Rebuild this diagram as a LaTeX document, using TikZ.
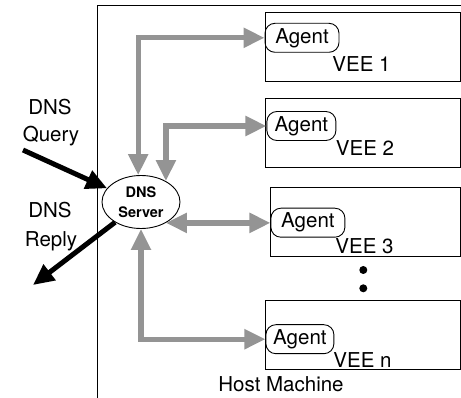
\documentclass[tikz,border=0pt]{standalone}
\usepackage{fontspec}
\setmainfont{TeX Gyre Heros}
\usetikzlibrary{arrows.meta,shapes.geometric}
\definecolor{arrowgray}{RGB}{148,148,148}
\begin{document}
\begin{tikzpicture}[x=1pt,y=-1pt,
  every node/.style={inner sep=0pt},
  txt/.style={font=\fontsize{20.5}{24}\selectfont, anchor=base},
  veebox/.style={draw, line width=0.9pt, rectangle},
  agent/.style={draw, line width=0.9pt, rounded corners=10pt, minimum height=29pt, font=\fontsize{20.5}{24}\selectfont},
  dnsnode/.style={draw, line width=0.9pt, ellipse, minimum width=78pt, minimum height=53pt, align=center, font=\fontsize{14.5}{20}\selectfont\bfseries},
  garrow/.style={draw=arrowgray, line width=5.3pt, {Triangle[length=21pt,width=19pt]}-{Triangle[length=21pt,width=19pt]}},
  barrow/.style={draw=black, line width=5pt, -{Triangle[length=21pt,width=19pt]}},
  dotnode/.style={circle, fill=black, minimum size=8pt}
]
\useasboundingbox (0,0) rectangle (461,398);

% host machine border
\draw[line width=0.9pt] (461,5) -- (97,5) -- (97,398);
\node[txt] (host) at (281,391.7) {Host Machine};

% VEE boxes
\node[veebox, minimum width=194.3pt, minimum height=69pt] (vee1) at (362.85,46.5) {};
\node[veebox, minimum width=194.3pt, minimum height=69pt] (vee2) at (362.85,132.5) {};
\node[veebox, minimum width=190pt, minimum height=69pt] (vee3) at (365,221.5) {};
\node[veebox, minimum width=194.3pt, minimum height=69pt] (veen) at (362.85,334.7) {};

\node[txt] (l1) at (361.5,71.7) {VEE 1};
\node[txt] (l2) at (365,156) {VEE 2};
\node[txt] (l3) at (364.5,254) {VEE 3};
\node[txt] (ln) at (362.5,367) {VEE n};

% agents
\node[agent, minimum width=74pt] (agent1) at (302,37.8) {Agent};
\node[agent, minimum width=69pt] (agent2) at (301.4,126) {Agent};
\node[agent, minimum width=74pt] (agent3) at (307.9,222.7) {Agent};
\node[agent, minimum width=68pt] (agentn) at (299.9,339.2) {Agent};

% dots
\node[dotnode] (dot1) at (363.3,270) {};
\node[dotnode] (dot2) at (363.3,288.3) {};

% DNS server
\node[dnsnode] (dns) at (141,202) {DNS\\Server};

% gray connectors
\draw[garrow] (dns.96) |- (agent1.west);
\draw[garrow] (dns.40) |- (agent2.west);
\draw[garrow] (dns.-40) -- (dns.-40 -| agent3.west);
\draw[garrow] (dns.south) |- (agentn.west);

% DNS query / reply
\coordinate (qs) at (23,150);
\coordinate (re) at (33,285);
\draw[barrow] (qs) -- (dns.158);
\draw[barrow] (dns.218) -- (re);

\node[txt] (q1) at (50,115) {DNS};
\node[txt] (q2) at (51,142) {Query};
\node[txt] (r1) at (50,218) {DNS};
\node[txt] (r2) at (51,247) {Reply};
\end{tikzpicture}
\end{document}
